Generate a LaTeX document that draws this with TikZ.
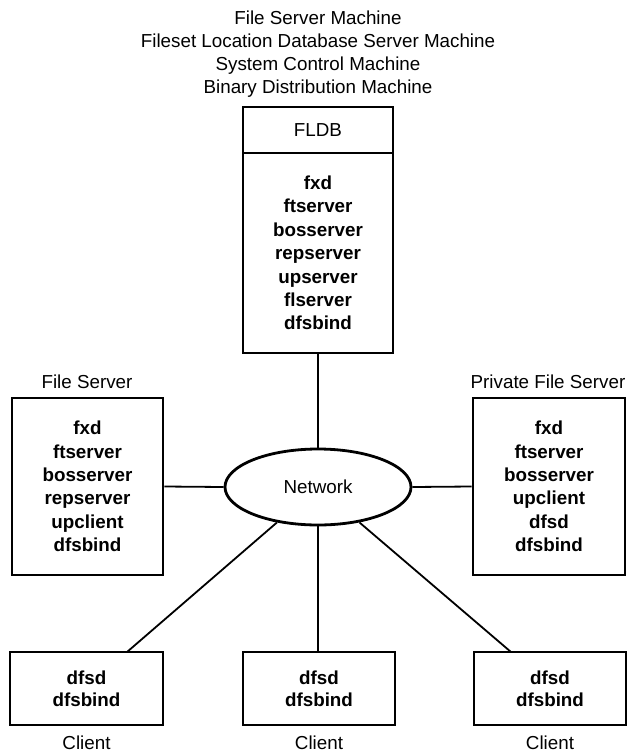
\documentclass[tikz,border=0pt]{standalone}
\usepackage{fontspec}
\setmainfont{Liberation Sans}
\usetikzlibrary{shapes.geometric}
\begin{document}
\begin{tikzpicture}[x=1pt,y=-1pt,
  txt/.style={font=\fontsize{18.8}{23}\selectfont, align=center, inner sep=0pt},
  prog/.style={draw, line width=2.8pt, inner sep=0pt, align=center,
    font=\fontsize{18.8}{23.4}\selectfont\bfseries},
  link/.style={line width=1.8pt}]
  \useasboundingbox (0,0) rectangle (632,753);

  % central machine with the FLDB
  \node[txt] (title) at (318,54.5) {File Server Machine\\
    Fileset Location Database Server Machine\\
    System Control Machine\\
    Binary Distribution Machine};
  \node[prog, font=\fontsize{18.8}{23.4}\selectfont, minimum width=150pt, minimum height=46pt]
    (fldbhead) at (318,130) {FLDB};
  \node[prog, minimum width=150pt, minimum height=200pt] (fldb) at (318,253)
    {fxd\\ftserver\\bosserver\\repserver\\upserver\\flserver\\dfsbind};

  % network
  \node[draw, ellipse, line width=2.8pt, minimum width=186pt, minimum height=76pt,
    inner sep=0pt, font=\fontsize{18.8}{23}\selectfont] (net) at (318,487) {Network};

  % file servers
  \node[txt] (fslabel) at (87,382) {File Server};
  \node[prog, minimum width=151pt, minimum height=177pt] (fs) at (87.5,486.5)
    {fxd\\ftserver\\bosserver\\repserver\\upclient\\dfsbind};
  \node[txt] (pfslabel) at (548,382) {Private File Server};
  \node[prog, minimum width=152pt, minimum height=177pt] (pfs) at (549,486.5)
    {fxd\\ftserver\\bosserver\\upclient\\dfsd\\dfsbind};

  % clients
  \node[prog, font=\fontsize{18.8}{22}\selectfont\bfseries, minimum width=153pt, minimum height=73pt]
    (c1) at (86.5,688.5) {dfsd\\dfsbind};
  \node[prog, font=\fontsize{18.8}{22}\selectfont\bfseries, minimum width=152pt, minimum height=73pt]
    (c2) at (319,688.5) {dfsd\\dfsbind};
  \node[prog, font=\fontsize{18.8}{22}\selectfont\bfseries, minimum width=152pt, minimum height=73pt]
    (c3) at (550,688.5) {dfsd\\dfsbind};
  \node[txt] (c1label) at (86.5,743) {Client};
  \node[txt] (c2label) at (319,743) {Client};
  \node[txt] (c3label) at (550,743) {Client};

  % connections
  \coordinate (c1in) at (127,652);
  \coordinate (c3in) at (511,652);
  \draw[link] (fldb.south) -- (net.north);
  \draw[link] (fs.east) -- (net.west);
  \draw[link] (net.east) -- (pfs.west);
  \draw[link] (net.south) -- (net.south |- c2.north);
  \draw[link] (net) -- (c1in);
  \draw[link] (net) -- (c3in);
\end{tikzpicture}
\end{document}
